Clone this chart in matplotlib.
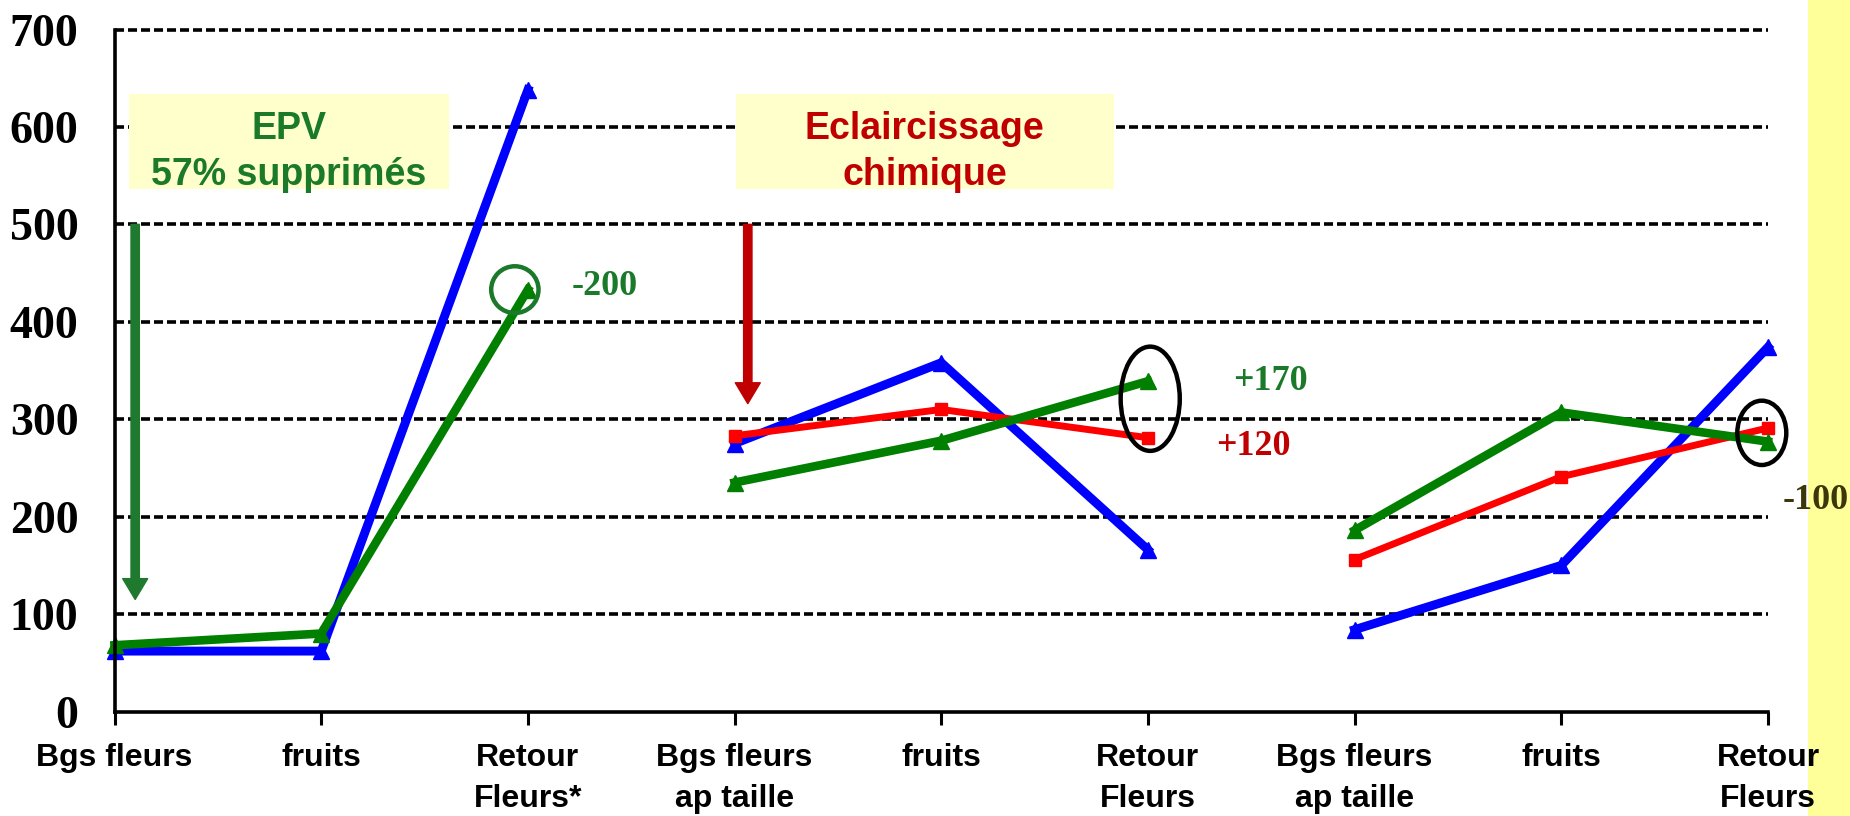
import matplotlib
matplotlib.use("Agg")
import matplotlib.pyplot as plt
from matplotlib.patches import Rectangle, Ellipse

# ---- data ----
categories = ["Bgs fleurs", "fruits", "Retour\nFleurs*",
              "Bgs fleurs\nap taille", "fruits", "Retour\nFleurs",
              "Bgs fleurs\nap taille", "fruits", "Retour\nFleurs"]
groups = [[0, 1, 2], [3, 4, 5], [6, 7, 8]]

blue_vals = [[62, 62, 638], [275, 358, 166], [84, 150, 374]]
green_vals = [[68, 80, 433], [235, 278, 339], [186, 307, 277]]
red_vals = [None, [283, 310, 281], [156, 241, 291]]

yticks = [0, 100, 200, 300, 400, 500, 600, 700]

# ---- figure ----
fig = plt.figure(figsize=(18.5, 8.16), dpi=100)
fig.patch.set_facecolor("white")
fig.patches.append(Rectangle((1808 / 1850, 0), 1 - 1808 / 1850, 1,
                             transform=fig.transFigure, facecolor="#ffff99",
                             edgecolor="none", zorder=-1))
ax = fig.add_axes([114.5 / 1850, 1 - 711.5 / 816, (1768 - 114.5) / 1850, 682 / 816])
ax.set_facecolor("none")
ax.set_zorder(1)

# gridlines
for yv in yticks[1:]:
    ax.axhline(yv, color="black", lw=2.6, dashes=(2.5, 1.1), zorder=1,
               clip_on=False)

for gi, idx in enumerate(groups):
    ax.plot(idx, blue_vals[gi], color="#0000ff", lw=6.4, marker="^", ms=12,
            solid_joinstyle="miter", zorder=3, clip_on=False)
    if red_vals[gi] is not None:
        ax.plot(idx, red_vals[gi], color="#ff0000", lw=5.0, marker="s", ms=8,
                zorder=4, clip_on=False)
    ax.plot(idx, green_vals[gi], color="#007f00", lw=6.2, marker="^", ms=12,
            solid_joinstyle="miter", zorder=5, clip_on=False)

ax.set_xlim(0, 8)
ax.set_ylim(0, 700)
ax.set_yticks(yticks)
ax.set_yticklabels([str(v) for v in yticks], family="Liberation Serif",
                   fontweight="bold", fontsize=33)
ax.set_xticks(range(len(categories)))
ax.set_xticklabels(categories, family="Liberation Sans", fontweight="bold",
                   fontsize=23, linespacing=1.45)
ax.tick_params(axis="y", length=0, pad=26)
ax.tick_params(axis="x", length=9, width=2.2, direction="out", pad=14)
for s in ["top", "right"]:
    ax.spines[s].set_visible(False)
for s in ["left", "bottom"]:
    ax.spines[s].set_linewidth(2.6)
    ax.spines[s].set_zorder(6)

# annotation boxes
ax.add_patch(Rectangle((0.07, 536), 1.546, 97.5, facecolor="#ffffcc",
                       edgecolor="none", zorder=2))
ax.text(0.843, 574, "EPV\n57% supprimés", ha="center", va="center",
        color="#1a7a2a", family="Liberation Sans", fontweight="bold",
        fontsize=27, linespacing=1.35, zorder=3)
ax.add_patch(Rectangle((3.006, 536), 1.828, 97.5, facecolor="#ffffcc",
                       edgecolor="none", zorder=2))
ax.text(3.92, 574, "Eclaircissage\nchimique", ha="center", va="center",
        color="#c00000", family="Liberation Sans", fontweight="bold",
        fontsize=27, linespacing=1.35, zorder=3)

# arrows
arrow_kw = dict(width=6, headwidth=18, headlength=15, shrink=0)
ax.annotate("", xy=(0.10, 115), xytext=(0.10, 500),
            arrowprops=dict(color="#1f7a30", **arrow_kw), zorder=3)
ax.annotate("", xy=(3.064, 316), xytext=(3.064, 500),
            arrowprops=dict(color="#c00000", **arrow_kw), zorder=3)

# circles
ax.add_patch(Ellipse((1.937, 433), 0.229, 48, facecolor="none",
                     edgecolor="#1a7a2a", lw=3.2, zorder=6, clip_on=False))
ax.add_patch(Ellipse((5.011, 321), 0.286, 107, facecolor="none",
                     edgecolor="black", lw=3.2, zorder=6, clip_on=False))
ax.add_patch(Ellipse((7.97, 286), 0.237, 66, facecolor="none",
                     edgecolor="black", lw=3.2, zorder=6, clip_on=False))

# value labels
num_kw = dict(family="Liberation Serif", fontweight="bold", fontsize=26,
              va="center", ha="left", zorder=7, clip_on=False)
ax.text(2.21, 436, "-200", color="#1a7a2a", **num_kw)
ax.text(5.41, 339, "+170", color="#1a7a2a", **num_kw)
ax.text(5.33, 272, "+120", color="#c00000", **num_kw)
ax.text(8.07, 217, "-100", color="#3b370a", **num_kw)

fig.savefig("out.png", dpi=100)
